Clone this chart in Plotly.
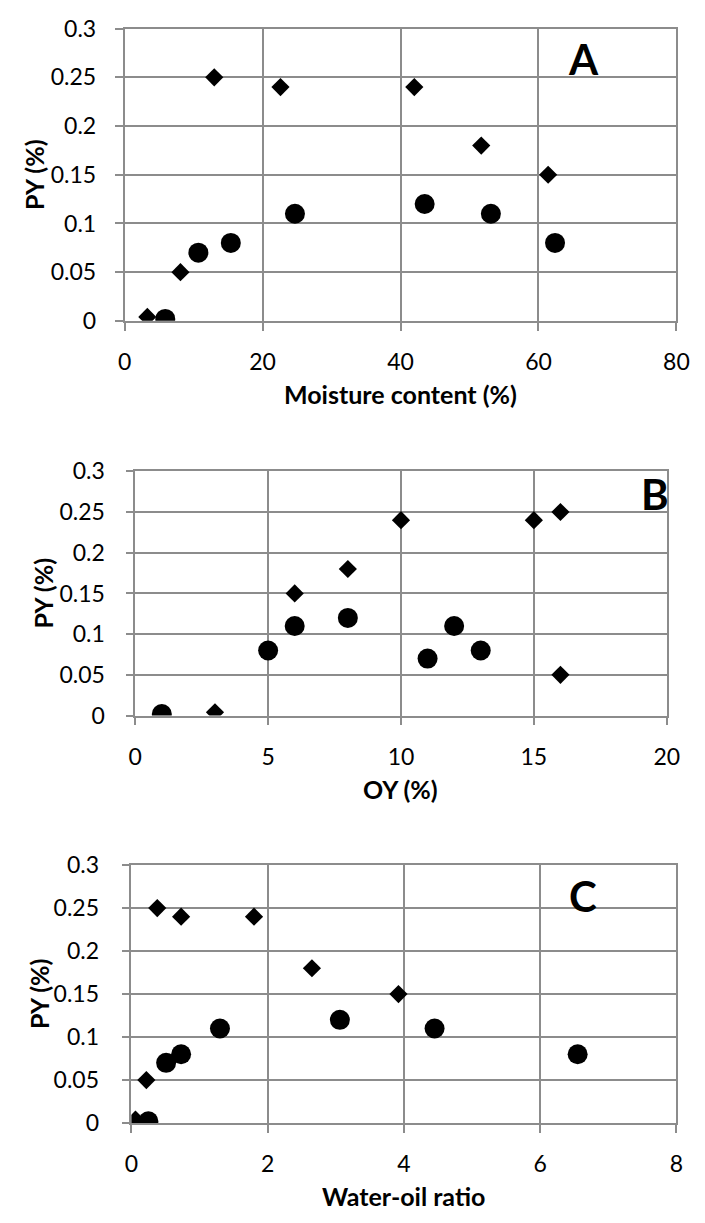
import plotly.graph_objects as go

W, H = 705, 1223

# Panel A: pyrolysis yield vs moisture content
a_dia_x = [3.3, 8.1, 13.0, 22.6, 42.0, 51.7, 61.4]
a_dia_y = [0.004, 0.05, 0.25, 0.24, 0.24, 0.18, 0.15]
a_cir_x = [5.9, 10.7, 15.4, 24.7, 43.5, 53.1, 62.4]
a_cir_y = [0.002, 0.07, 0.08, 0.11, 0.12, 0.11, 0.08]

# Panel B: pyrolysis yield vs oil yield
b_dia_x = [3, 6, 8, 10, 15, 16, 16]
b_dia_y = [0.004, 0.15, 0.18, 0.24, 0.24, 0.25, 0.05]
b_cir_x = [1, 5, 6, 8, 11, 12, 13]
b_cir_y = [0.002, 0.08, 0.11, 0.12, 0.07, 0.11, 0.08]

# Panel C: pyrolysis yield vs water-oil ratio
c_dia_x = [0.06, 0.22, 0.38, 0.73, 1.80, 2.65, 3.92]
c_dia_y = [0.004, 0.05, 0.25, 0.24, 0.24, 0.18, 0.15]
c_cir_x = [0.25, 0.51, 0.73, 1.30, 3.06, 4.45, 6.55]
c_cir_y = [0.002, 0.07, 0.08, 0.11, 0.12, 0.11, 0.08]

y_ticks = [0, 0.05, 0.1, 0.15, 0.2, 0.25, 0.3]
a_x_ticks = [0, 20, 40, 60, 80]
b_x_ticks = [0, 5, 10, 15, 20]
c_x_ticks = [0, 2, 4, 6, 8]

panels = [
    dict(name="A", dx=a_dia_x, dy=a_dia_y, cx=a_cir_x, cy=a_cir_y, xt=a_x_ticks,
         box=(121, 689, 14, 313), xtitle="Moisture content (%)", ytitle_x=28,
         letter_xy=(593, 45), ystand=14),
    dict(name="B", dx=b_dia_x, dy=b_dia_y, cx=b_cir_x, cy=b_cir_y, xt=b_x_ticks,
         box=(132, 679, 467, 717), xtitle="OY (%)", ytitle_x=37,
         letter_xy=(667, 490), ystand=16),
    dict(name="C", dx=c_dia_x, dy=c_dia_y, cx=c_cir_x, cy=c_cir_y, xt=c_x_ticks,
         box=(128, 689, 870, 1134), xtitle="Water-oil ratio", ytitle_x=33,
         letter_xy=(593, 902), ystand=18),
]

FONT = "Lato, 'Open Sans', sans-serif"
GRID = "#8c8c8c"

fig = go.Figure()
layout = dict(
    width=W, height=H,
    margin=dict(l=0, r=0, t=0, b=0),
    paper_bgcolor="white", plot_bgcolor="white",
    showlegend=False,
    font=dict(family=FONT, color="black", size=23),
)
annotations = []

for i, p in enumerate(panels, start=1):
    suffix = "" if i == 1 else str(i)
    xa, ya = "x" + suffix, "y" + suffix
    x0, x1, y0, y1 = p["box"]
    fig.add_trace(go.Scatter(
        x=p["dx"], y=p["dy"], mode="markers", xaxis=xa, yaxis=ya,
        marker=dict(symbol="diamond", size=14, color="black", line=dict(width=0)),
    ))
    fig.add_trace(go.Scatter(
        x=p["cx"], y=p["cy"], mode="markers", xaxis=xa, yaxis=ya,
        marker=dict(symbol="circle", size=20, color="black", line=dict(width=0)),
    ))
    common = dict(
        showgrid=True, gridcolor=GRID, gridwidth=1.5,
        showline=True, linecolor=GRID, linewidth=1.5, mirror=True,
        ticks="outside", ticklen=8, tickwidth=1.5, tickcolor=GRID,
        zeroline=False, tickfont=dict(family=FONT, size=23, color="black"),
    )
    layout["xaxis" + suffix] = dict(
        common, domain=[x0 / W, x1 / W], anchor=ya,
        range=[p["xt"][0], p["xt"][-1]], tickvals=p["xt"],
        ticklabelstandoff=12,
    )
    layout["yaxis" + suffix] = dict(
        common, domain=[1 - y1 / H, 1 - y0 / H], anchor=xa,
        range=[0, 0.3], tickvals=y_ticks, ticktext=[f"{v:g}" for v in y_ticks],
        ticklabelstandoff=p["ystand"],
    )
    # axis titles
    annotations.append(dict(
        text="<b>" + p["xtitle"] + "</b>", xref="paper", yref="paper",
        x=(x0 + x1) / 2 / W, y=1 - (y1 + 75) / H, xanchor="center", yanchor="middle",
        showarrow=False, font=dict(family=FONT, size=25, color="black"),
    ))
    annotations.append(dict(
        text="<b>PY (%)</b>", xref="paper", yref="paper", textangle=-90,
        x=p["ytitle_x"] / W, y=1 - (y0 + y1) / 2 / H, xanchor="center", yanchor="middle",
        showarrow=False, font=dict(family=FONT, size=25, color="black"),
    ))
    # panel letter
    lx, ly = p["letter_xy"]
    annotations.append(dict(
        text="<b>" + p["name"] + "</b>", xref="paper", yref="paper",
        x=lx / W, y=1 - ly / H, xanchor="center", yanchor="middle",
        showarrow=False, font=dict(family=FONT, size=42, color="black"),
    ))

layout["annotations"] = annotations
fig.update_layout(**layout)
fig.write_html("out.html")
